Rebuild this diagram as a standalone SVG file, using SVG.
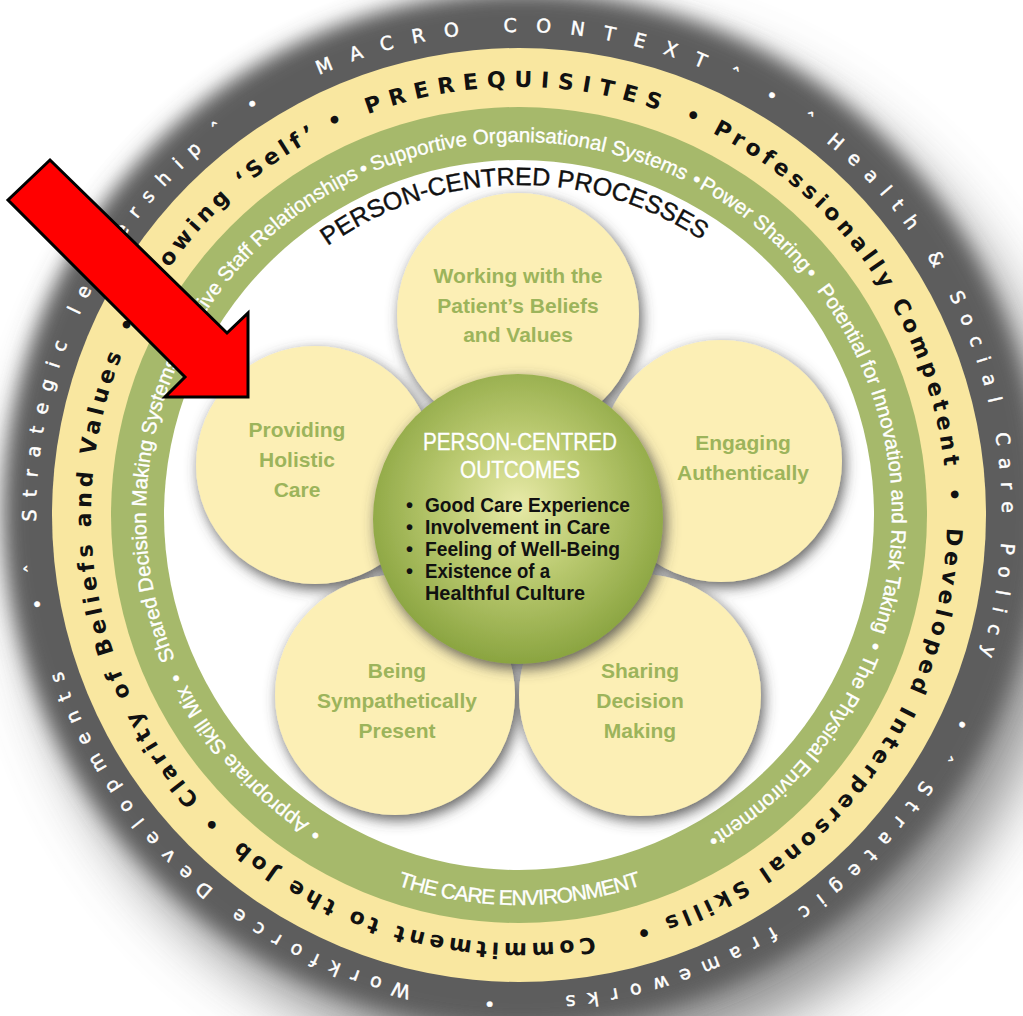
<svg xmlns="http://www.w3.org/2000/svg" width="1023" height="1016" viewBox="0 0 1023 1016">
<defs>
<style>
.grey{font-family:"DejaVu Sans",sans-serif;font-size:19px;fill:#fff;stroke:#fff;stroke-width:0.45px;letter-spacing:12px}
.yel{font-family:"DejaVu Sans",sans-serif;font-weight:bold;font-size:22px;fill:#111;letter-spacing:4.5px}
.grn{font-family:"Liberation Sans",Arial,sans-serif;font-size:20.5px;fill:#fff;stroke:#fff;stroke-width:0.35px}
.proc{font-family:"Liberation Sans",Arial,sans-serif;font-size:25px;fill:#111;stroke:#111;stroke-width:0.4px}
.env{font-family:"Liberation Sans",Arial,sans-serif;font-size:21px;fill:#fff;letter-spacing:-1px}
.petal{fill:#fcefb5}
.ptxt{font-family:"Liberation Sans",Arial,sans-serif;font-weight:bold;font-size:21px;fill:#9cb45b;text-anchor:middle}
.otl{font-family:"Liberation Sans",Arial,sans-serif;font-size:24px;fill:#fff;stroke:#fff;stroke-width:0.3px;text-anchor:middle}
.otxt{font-family:"Liberation Sans",Arial,sans-serif;font-weight:bold;font-size:20px;fill:#111}
</style>
<filter id="blurBig" x="-200" y="-200" width="1500" height="1500" filterUnits="userSpaceOnUse"><feGaussianBlur stdDeviation="10"/></filter>
<filter id="blurShadow" x="-200" y="-200" width="1500" height="1500" filterUnits="userSpaceOnUse"><feGaussianBlur stdDeviation="30"/></filter>
<filter id="shadow" x="-20%" y="-20%" width="140%" height="140%">
<feGaussianBlur in="SourceAlpha" stdDeviation="7"/>
<feOffset dx="3" dy="5" result="b"/>
<feFlood flood-color="#444" flood-opacity="0.85"/>
<feComposite in2="b" operator="in"/>
<feMerge><feMergeNode/><feMergeNode in="SourceGraphic"/></feMerge>
</filter>
<radialGradient id="cg" cx="0.5" cy="0.45" r="0.55">
<stop offset="0" stop-color="#e8eaa8"/>
<stop offset="0.45" stop-color="#bccb72"/>
<stop offset="1" stop-color="#8aa440"/>
</radialGradient>
<path id="pGrey" d="M 519 998 A 483 483 0 1 1 519 32 A 483 483 0 1 1 519 998"/>
<path id="pYel" d="M 947 515 A 428 428 0 1 1 91 515 A 428 428 0 1 1 947 515"/>
<path id="pGrn" d="M 519 888 A 373 373 0 1 1 519 142 A 373 373 0 1 1 519 888"/>
<path id="pProc" d="M 519 845 A 330 330 0 1 1 519 185 A 330 330 0 1 1 519 845"/>
<path id="pEnv" d="M 129 515 A 390 390 0 0 0 909 515"/>
</defs>

<rect width="1023" height="1016" fill="#fff"/>

<g id="rings">
<circle cx="548" cy="548" r="520" fill="#6a6a6a" opacity="0.75" filter="url(#blurShadow)"/>
<circle cx="522" cy="510" r="518" fill="#5d5d5d" filter="url(#blurBig)"/>
<circle cx="519" cy="515" r="467" fill="#f9e7a0"/>
<circle cx="519" cy="515" r="408" fill="#a6b96b"/>
<circle cx="519" cy="515" r="355" fill="#fff"/>
</g>

<g id="macro-context-text" class="grey" text-anchor="middle">
<text><textPath href="#pGrey" startOffset="1518" style="letter-spacing:19px">MACRO CONTEXT</textPath></text>
<text><textPath href="#pGrey" startOffset="1742">ˆ</textPath></text>
<text><textPath href="#pGrey" startOffset="1785">•</textPath></text>
<text><textPath href="#pGrey" startOffset="1827">ˆ</textPath></text>
<text><textPath href="#pGrey" startOffset="2140">Health &amp; Social Care Policy</textPath></text>
<text><textPath href="#pGrey" startOffset="2495">•</textPath></text>
<text><textPath href="#pGrey" startOffset="2530">ˆ</textPath></text>
<text><textPath href="#pGrey" startOffset="2778">Strategic frameworks</textPath></text>
<text><textPath href="#pGrey" startOffset="35">•</textPath></text>
<text><textPath href="#pGrey" startOffset="360">Workforce Developments</textPath></text>
<text><textPath href="#pGrey" startOffset="676">•</textPath></text>
<text><textPath href="#pGrey" startOffset="712">ˆ</textPath></text>
<text><textPath href="#pGrey" startOffset="968">Strategic leadership</textPath></text>
<text><textPath href="#pGrey" startOffset="1203">ˆ</textPath></text>
<text><textPath href="#pGrey" startOffset="1245">•</textPath></text>
</g>

<g id="prerequisites-text" class="yel" text-anchor="middle">
<text><textPath href="#pYel" startOffset="2015" style="letter-spacing:8.5px">PREREQUISITES</textPath></text>
<text><textPath href="#pYel" startOffset="2195">•</textPath></text>
<text><textPath href="#pYel" startOffset="2431">Professionally Competent</textPath></text>
<text><textPath href="#pYel" startOffset="2671">•</textPath></text>
<text><textPath href="#pYel" startOffset="271">Developed Interpersonal Skills</textPath></text>
<text><textPath href="#pYel" startOffset="550">•</textPath></text>
<text><textPath href="#pYel" startOffset="788">Commitment to the Job</textPath></text>
<text><textPath href="#pYel" startOffset="1009">•</textPath></text>
<text><textPath href="#pYel" startOffset="1273">Clarity of Beliefs and Values</textPath></text>
<text><textPath href="#pYel" startOffset="1540">•</textPath></text>
<text><textPath href="#pYel" startOffset="1688">Knowing ‘Self’</textPath></text>
<text><textPath href="#pYel" startOffset="1832">•</textPath></text>
</g>

<g id="care-environment-text" class="grn" text-anchor="middle">
<text><textPath href="#pGrn" startOffset="211">•</textPath></text>
<text><textPath href="#pGrn" startOffset="316">Appropriate Skill Mix</textPath></text>
<text><textPath href="#pGrn" startOffset="420">•</textPath></text>
<text><textPath href="#pGrn" startOffset="591">Shared Decision Making Systems</textPath></text>
<text><textPath href="#pGrn" startOffset="742">•</textPath></text>
<text><textPath href="#pGrn" startOffset="879">Effective Staff Relationships</textPath></text>
<text><textPath href="#pGrn" startOffset="1014">•</textPath></text>
<text><textPath href="#pGrn" startOffset="1182">Supportive Organisational Systems</textPath></text>
<text><textPath href="#pGrn" startOffset="1353">•</textPath></text>
<text><textPath href="#pGrn" startOffset="1426">Power Sharing</textPath></text>
<text><textPath href="#pGrn" startOffset="1499">•</textPath></text>
<text><textPath href="#pGrn" startOffset="1696">Potential for Innovation and Risk Taking</textPath></text>
<text><textPath href="#pGrn" startOffset="1889">•</textPath></text>
<text><textPath href="#pGrn" startOffset="2018">The Physical Environment</textPath></text>
<text><textPath href="#pGrn" startOffset="2142">•</textPath></text>
<text class="env"><textPath href="#pEnv" startOffset="50%">THE CARE ENVIRONMENT</textPath></text>
</g>

<g id="processes-title" class="proc" text-anchor="middle">
<text><textPath href="#pProc" startOffset="1031">PERSON-CENTRED PROCESSES</textPath></text>
</g>

<g id="petals" filter="url(#shadow)">
<circle id="petal-top" class="petal" cx="518" cy="314" r="121"/>
<circle id="petal-left" class="petal" cx="315" cy="465" r="119"/>
<circle id="petal-right" class="petal" cx="721" cy="461" r="121"/>
<circle id="petal-bl" class="petal" cx="395" cy="695" r="120"/>
<circle id="petal-br" class="petal" cx="640" cy="695" r="121"/>
</g>

<g id="node-working" class="ptxt">
<text x="518" y="283">Working with the</text>
<text x="518" y="313">Patient’s Beliefs</text>
<text x="518" y="342">and Values</text>
</g>
<g id="node-holistic" class="ptxt">
<text x="297" y="437">Providing</text>
<text x="297" y="467">Holistic</text>
<text x="297" y="497">Care</text>
</g>
<g id="node-engaging" class="ptxt">
<text x="743" y="450">Engaging</text>
<text x="743" y="480">Authentically</text>
</g>
<g id="node-sympathetic" class="ptxt">
<text x="397" y="678">Being</text>
<text x="397" y="708">Sympathetically</text>
<text x="397" y="738">Present</text>
</g>
<g id="node-sharing" class="ptxt">
<text x="640" y="678">Sharing</text>
<text x="640" y="708">Decision</text>
<text x="640" y="738">Making</text>
</g>

<g id="node-outcomes">
<circle cx="518" cy="519" r="145" fill="url(#cg)" filter="url(#shadow)"/>
<text class="otl" x="520" y="450" textLength="194" lengthAdjust="spacingAndGlyphs">PERSON-CENTRED</text>
<text class="otl" x="520" y="478" textLength="120" lengthAdjust="spacingAndGlyphs">OUTCOMES</text>
<g class="otxt">
<text x="406" y="512">•</text>
<text x="425" y="512" textLength="205" lengthAdjust="spacingAndGlyphs">Good Care Experience</text>
<text x="406" y="534">•</text>
<text x="425" y="534" textLength="185" lengthAdjust="spacingAndGlyphs">Involvement in Care</text>
<text x="406" y="556">•</text>
<text x="425" y="556" textLength="195" lengthAdjust="spacingAndGlyphs">Feeling of Well-Being</text>
<text x="406" y="578">•</text>
<text x="425" y="578" textLength="125" lengthAdjust="spacingAndGlyphs">Existence of a</text>
<text x="425" y="600" textLength="160" lengthAdjust="spacingAndGlyphs">Healthful Culture</text>
</g>
</g>

<g id="arrow">
<polygon points="50,160 227,333 248,313 248,397 165,397 185,377 8,200" fill="#ff0000" stroke="#000" stroke-width="3" stroke-linejoin="miter"/>
</g>
</svg>
